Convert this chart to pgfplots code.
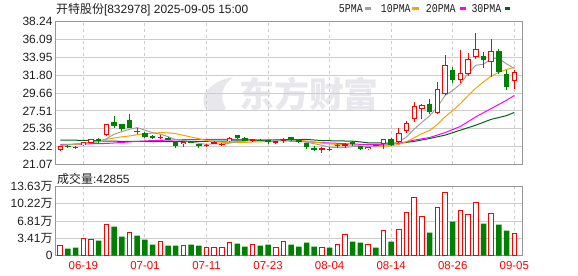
\documentclass[border=0pt]{standalone}
\usepackage{fontspec}
\setmainfont{Liberation Sans}
\newfontfamily\cjk{Noto Sans CJK SC}
\newfontfamily\mono{Liberation Mono}
\usepackage{graphicx}
\usepackage{pgfplots}
\usepackage{pgfplotstable}
\pgfplotsset{compat=1.18}
\definecolor{kred}{RGB}{255,0,0}
\definecolor{kgreen}{RGB}{0,128,0}
\definecolor{maA}{RGB}{160,160,160}
\definecolor{maB}{RGB}{245,165,0}
\definecolor{maC}{RGB}{255,0,255}
\definecolor{maD}{RGB}{0,100,30}
\definecolor{gridc}{RGB}{205,205,205}
\definecolor{framec}{RGB}{150,150,150}
\definecolor{wm}{RGB}{232,232,236}
\definecolor{lab}{RGB}{30,30,30}
\newcommand\legtxt[1]{\scalebox{0.83}[1]{\mono\fontsize{12}{12}\selectfont #1}}

\pgfplotstableread{
x o h l c
0 22.80 23.30 22.75 23.24
3 23.40 23.80 23.35 23.75
4 23.65 24.12 23.60 24.10
6 24.56 25.88 24.50 25.88
13 24.30 24.60 24.10 24.35
16 23.50 23.85 23.20 23.80
19 23.35 23.50 23.20 23.40
20 23.65 23.85 23.55 23.70
21 23.45 23.65 23.30 23.55
22 23.87 24.35 23.80 24.25
25 23.90 24.15 23.75 24.10
28 23.65 23.90 23.55 23.85
29 24.00 24.30 23.65 24.05
34 22.95 23.20 22.50 23.00
36 23.35 23.55 23.10 23.40
37 23.38 23.65 23.10 23.45
40 22.90 23.20 22.85 23.15
42 23.55 24.15 22.95 24.10
44 23.80 25.40 23.70 24.90
45 25.10 26.30 24.80 26.10
46 26.55 28.60 26.20 28.10
47 27.70 28.35 26.50 28.20
49 27.30 31.00 27.10 30.10
50 29.60 34.25 29.40 33.00
52 31.20 34.80 30.90 32.10
53 31.90 34.45 31.70 33.80
54 34.00 36.90 33.80 34.90
56 33.40 36.15 31.60 34.70
59 31.15 32.40 30.20 32.20
}\upC
\pgfplotstableread{
x o h l c
1 23.30 23.45 23.10 23.22
2 23.20 23.25 22.95 23.05
5 24.10 24.30 23.70 24.05
7 26.20 26.90 25.45 25.75
8 25.90 25.95 25.15 25.30
9 26.40 27.20 25.40 25.50
10 25.10 25.40 24.70 25.05
11 24.85 25.00 24.30 24.40
12 24.50 24.60 24.15 24.25
14 24.30 24.35 24.00 24.05
15 23.85 23.90 23.10 23.30
17 23.85 23.90 23.60 23.65
18 23.50 23.55 23.05 23.30
23 24.60 24.65 24.10 24.20
24 24.30 24.35 23.85 23.90
26 24.05 24.10 23.90 23.95
27 24.00 24.05 23.55 23.85
30 24.35 24.40 23.95 24.00
31 24.05 24.15 23.70 23.80
32 23.65 23.70 22.90 23.20
33 23.00 23.25 22.70 22.95
35 22.95 23.15 22.75 22.90
38 23.75 23.85 23.25 23.50
39 23.25 23.30 22.80 22.90
41 23.40 23.45 23.30 23.35
43 24.15 24.30 23.30 23.45
48 28.30 28.90 27.10 27.35
51 32.40 32.80 30.90 31.20
55 34.10 34.60 32.70 33.60
57 34.70 34.95 32.00 32.20
58 31.90 32.40 30.00 30.40
}\dnC
\pgfplotstableread{
x v
0 23.40
1 23.45
2 23.55
3 23.62
4 23.70
5 23.80
6 24.17
7 24.71
8 25.02
9 25.30
10 25.50
11 25.20
12 24.90
13 24.71
14 24.42
15 24.07
16 23.95
17 23.83
18 23.62
19 23.49
20 23.57
21 23.52
22 23.64
23 23.82
24 23.92
25 24.00
26 24.08
27 24.00
28 23.93
29 23.96
30 23.94
31 23.89
32 23.75
33 23.57
34 23.38
35 23.16
36 23.10
37 23.12
38 23.22
39 23.20
40 23.25
41 23.26
42 23.40
43 23.39
44 23.79
45 24.38
46 25.33
47 26.15
48 26.93
49 27.97
50 29.35
51 29.97
52 30.75
53 32.04
54 33.00
55 33.12
56 33.82
57 33.84
58 33.16
59 32.62
}\maFive
\pgfplotstableread{
x v
0 23.35
1 23.42
2 23.50
3 23.60
4 23.75
5 23.92
6 24.10
7 24.25
8 24.40
9 24.50
10 24.65
11 24.75
12 24.85
13 24.90
14 24.88
15 24.78
16 24.58
17 24.37
18 24.17
19 23.96
20 23.82
21 23.74
22 23.74
23 23.72
24 23.71
25 23.79
26 23.80
27 23.82
28 23.88
29 23.94
30 23.96
31 23.99
32 23.88
33 23.75
34 23.66
35 23.54
36 23.48
37 23.43
38 23.40
39 23.30
40 23.23
41 23.19
42 23.26
43 23.31
44 23.50
45 23.82
46 24.30
47 24.78
48 25.16
49 25.88
50 26.80
51 27.55
52 28.40
53 29.35
54 30.25
55 31.00
56 31.70
57 32.15
58 32.50
59 32.75
}\maTen
\pgfplotstableread{
x v
0 23.50
2 23.50
4 23.57
6 23.60
8 23.72
10 23.85
12 23.95
14 24.00
16 24.05
18 24.08
20 24.08
22 24.08
24 24.08
26 24.06
28 24.00
30 23.88
32 23.82
34 23.70
36 23.62
38 23.52
40 23.48
42 23.50
44 23.62
46 24.00
48 24.32
50 24.90
52 25.65
54 26.80
56 27.80
58 28.80
59 29.37
}\maTwenty
\pgfplotstableread{
x v
0 24.00
3 23.98
6 23.88
10 23.84
14 23.82
18 23.85
22 23.90
26 23.95
29 24.06
32 24.08
34 23.95
36 23.91
38 23.88
40 23.68
42 23.65
44 23.62
46 23.85
48 24.20
50 24.60
52 25.20
54 25.80
56 26.50
58 26.95
59 27.33
}\maThirty
\pgfplotstableread{
x v
0 1.91
3 3.29
4 3.09
6 6.24
9 4.47
13 2.70
16 1.91
19 1.51
20 1.51
21 1.51
22 2.50
25 2.10
28 1.51
29 2.70
34 1.51
36 2.10
37 4.07
40 2.10
42 4.86
44 5.06
45 8.60
46 11.56
47 7.82
49 9.59
50 12.55
52 9.00
53 8.08
54 10.58
56 8.41
59 4.29
}\volUp
\pgfplotstableread{
x v
1 1.38
2 1.58
5 2.95
7 5.71
8 3.74
10 3.94
11 3.15
12 2.17
14 1.97
15 1.97
17 2.17
18 1.97
23 2.36
24 1.77
26 1.97
27 2.17
30 2.17
31 1.77
32 2.56
33 1.77
35 1.58
38 2.76
39 2.56
41 1.58
43 2.76
48 4.53
51 6.70
55 6.30
57 6.10
58 4.93
}\volDn

\pgfplotsset{
  kbase/.style={
    scale only axis, width=466.5bp,
    xmin=-0.62, xmax=60,
    xtick={3,11,19,27,35,43,51,59},
    major tick length=0pt,
    axis line style={framec, line width=1bp},
    xmajorgrids, ymajorgrids,
    x grid style={gridc, line width=0.9bp, dash pattern=on 3bp off 3bp},
    y grid style={gridc, line width=0.9bp},
    yticklabel style={anchor=east, inner sep=0pt, xshift=-2.8bp, text=lab,
      font=\fontsize{12}{12}\selectfont},
  },
  wick/.style={draw=none, mark=none, forget plot,
    error bars/.cd, y dir=both, y explicit, error mark=none,
    error bar style={draw=#1, line width=1bp}},
  body/.style 2 args={draw=none, mark=none, forget plot,
    error bars/.cd, y dir=both, y explicit, error mark=none,
    error bar style={draw=#1, line width=#2, line cap=butt}},
}

\begin{document}
\begin{tikzpicture}
\path[use as bounding box] (0,0) rectangle (578bp,276bp);
% watermark
\fill[wm] (205bp,168bp) .. controls (198bp,182bp) and (212bp,195bp) .. (233bp,199bp)
  .. controls (222bp,190bp) and (219bp,180bp) .. (226bp,167bp)
  .. controls (219bp,164bp) and (210bp,164bp) .. (205bp,168bp);
\node[wm, font={\cjk\bfseries\fontsize{35}{35}\selectfont}, inner sep=0pt] at (309bp,181.5bp) {东方财富};

\begin{axis}[kbase,
  at={(55.5bp,111.5bp)}, anchor=south west, height=142.8bp,
  ymin=21.07, ymax=38.24,
  ytick={21.07,23.22,25.36,27.51,29.66,31.80,33.95,36.09,38.24},
  yticklabels={21.07,23.22,25.36,27.51,29.66,31.80,33.95,36.09,38.24},
  xticklabels={},
]
\addplot[maD, line width=1bp, mark=none] table[x=x,y=v]{\maThirty};
\addplot[maC, line width=1bp, mark=none] table[x=x,y=v]{\maTwenty};
\addplot[maB, line width=1bp, mark=none] table[x=x,y=v]{\maTen};
\addplot[maA, line width=1bp, mark=none] table[x=x,y=v]{\maFive};
% up candles
\addplot[wick=kred] table[x=x, y expr={(\thisrow{h}+\thisrow{l})/2}, y error expr={(\thisrow{h}-\thisrow{l})/2}]{\upC};
\addplot[body={kred}{5.5bp}] table[x=x, y expr={(\thisrow{o}+\thisrow{c})/2}, y error expr={max((\thisrow{c}-\thisrow{o})/2,0.06)}]{\upC};
\addplot[body={white}{3.5bp}] table[x=x, y expr={(\thisrow{o}+\thisrow{c})/2}, y error expr={max((\thisrow{c}-\thisrow{o})/2-0.12,0)}]{\upC};
% down candles
\addplot[wick=kgreen] table[x=x, y expr={(\thisrow{h}+\thisrow{l})/2}, y error expr={(\thisrow{h}-\thisrow{l})/2}]{\dnC};
\addplot[body={kgreen}{5.5bp}] table[x=x, y expr={(\thisrow{o}+\thisrow{c})/2}, y error expr={max((\thisrow{o}-\thisrow{c})/2,0.06)}]{\dnC};
\end{axis}

\begin{axis}[kbase,
  at={(55.5bp,20.5bp)}, anchor=south west, height=68.8bp,
  ymin=0, ymax=13.63,
  ytick={0,3.41,6.81,10.22,13.63},
  yticklabels={0,3.41{\cjk 万},6.81{\cjk 万},10.22{\cjk 万},13.63{\cjk 万}},
  xticklabels={06-19,07-01,07-11,07-23,08-04,08-14,08-26,09-05},
  xticklabel style={anchor=center, inner sep=0pt, yshift=-10.5bp, text=kred,
    font=\fontsize{11.5}{11.5}\selectfont},
]
\addplot[ybar, bar width=4.6bp, bar shift=0pt, draw=kred, fill=white, line width=1bp] table[x=x,y=v]{\volUp};
\addplot[ybar, bar width=5.5bp, bar shift=0pt, draw=none, fill=kgreen] table[x=x,y=v]{\volDn};
\end{axis}

% title and labels
\node[anchor=west, inner sep=0pt, text=lab, font=\fontsize{12}{12}\selectfont] at (56bp,266.5bp) {{\cjk 开特股份}[832978] 2025-09-05 15:00};
\node[anchor=west, inner sep=0pt, text=lab, font=\fontsize{12}{12}\selectfont] at (57bp,97.5bp) {{\cjk 成交量}:42855};
% legend
\node[anchor=west, inner sep=0pt, text=lab] at (338.7bp,267bp) {\legtxt{5PMA}};
\draw[maA, line width=3bp] (364.7bp,267bp) -- (371.3bp,267bp);
\node[anchor=west, inner sep=0pt, text=lab] at (380.7bp,267bp) {\legtxt{10PMA}};
\draw[maB, line width=3bp] (412bp,267bp) -- (418.7bp,267bp);
\node[anchor=west, inner sep=0pt, text=lab] at (425.7bp,267bp) {\legtxt{20PMA}};
\draw[maC, line width=3bp] (459.7bp,267bp) -- (465.5bp,267bp);
\node[anchor=west, inner sep=0pt, text=lab] at (471.3bp,267bp) {\legtxt{30PMA}};
\draw[maD, line width=3bp] (504.7bp,267bp) -- (510bp,267bp);
\end{tikzpicture}
\end{document}
